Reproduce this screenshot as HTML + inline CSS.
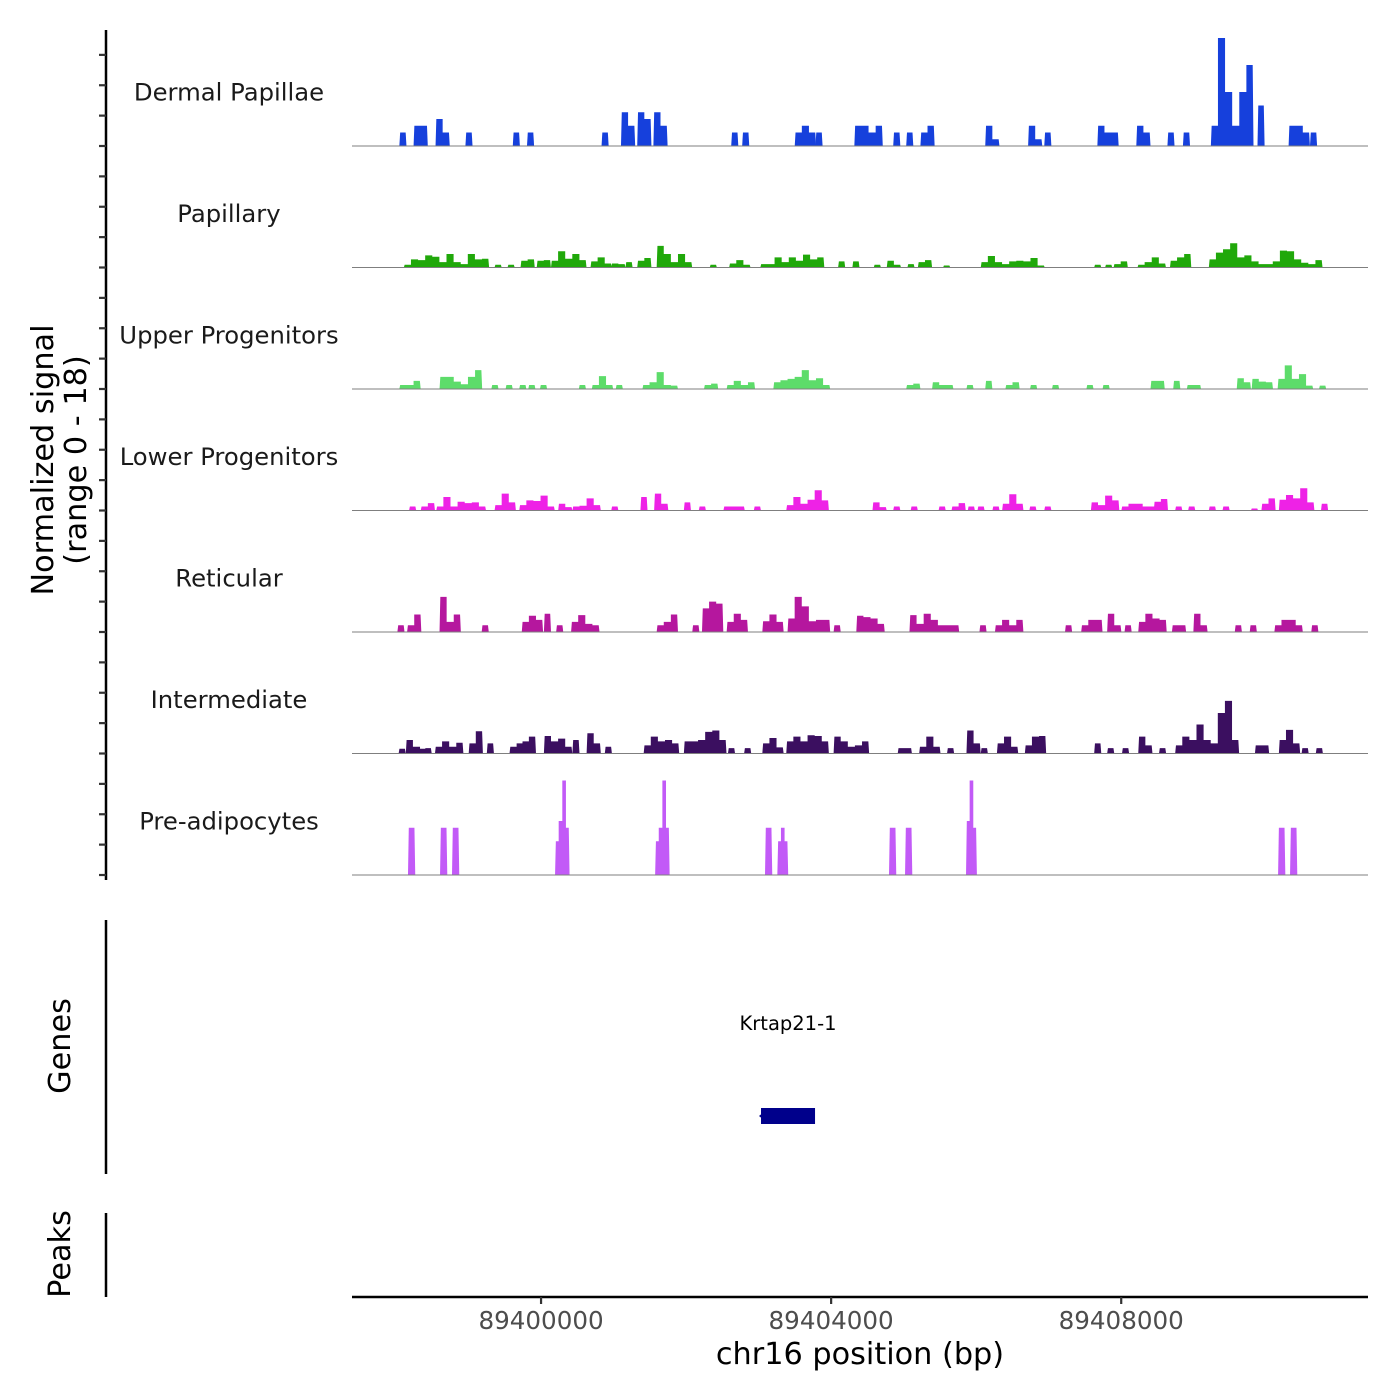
<!DOCTYPE html>
<html><head><meta charset="utf-8"><style>
html,body{margin:0;padding:0;background:#fff;}
svg{display:block;font-family:"DejaVu Sans","Liberation Sans",sans-serif;}
</style></head><body>
<svg id="chart" width="1400" height="1400" viewBox="0 0 1400 1400" xmlns="http://www.w3.org/2000/svg">
<rect x="0" y="0" width="1400" height="1400" fill="#fff"/>
<g id="tracks"></g>
<g id="axes"></g>
</svg>
<script>
// Region and scale data
const regionStart = 89397393;
const regionEnd = 89411403;
const signalMax = 18;
const binSizes = [98, 98, 98, 98, 98, 98, 50];
const xTickValues = [89400000, 89404000, 89408000];
const xTickLabels = ["89400000", "89404000", "89408000"];
const trackNames = ["Dermal Papillae","Papillary","Upper Progenitors","Lower Progenitors","Reticular","Intermediate","Pre-adipocytes"];
const trackColors = ["#1640dc","#20a80a","#5ddc6a","#ee22e6","#b5179e","#3b0f60","#c25af7"];
const geneName = "Krtap21-1";
const geneStart = 89403033;
const geneEnd = 89403778;

// Coverage clusters: [offset bp from regionStart, [signal per bin]]
const dermalPapillae = [[653,[2]],[849,[3,3]],[1152,[4,2]],[1564,[2]],[2217,[2]],[2413,[2]],[3441,[2]],[3709,[5,3]],[3933,[5,4]],[4156,[5,3]],[5229,[2]],[5380,[2]],[6105,[2,3,2]],[6391,[2]],[6927,[3,3,2,3]],[7463,[2]],[7642,[2]],[7838,[2,3]],[8732,[3,1]],[9323,[3,1]],[9546,[2]],[10278,[3,2,2]],[10815,[3,2]],[11244,[2]],[11458,[2]],[11843,[3,16,8,3,8,12]],[12486,[6]],[12915,[3,3,2]],[13210,[2]]];
const papillary = [[715,[0.4,1.2,1.1,1.8,1.6,0.8,2.0,0.8,0.5,2.0,1.2,1.3]],[1966,[0.4]],[2145,[0.4]],[2324,[1.0,1.2]],[2547,[1.0,1.1]],[2744,[1.0,2.4,1.3,2.0,1.1]],[3289,[0.9,1.5,0.6]],[3575,[0.6,0.5]],[3771,[0.8]],[3933,[1.0,1.4]],[4201,[3.2,2.0,0.8,2.0,0.8]],[4933,[0.4]],[5201,[0.6,1.1,0.4]],[5631,[0.5,0.5,1.5,0.8,1.5,1.0,1.9,1.2,1.5]],[6703,[0.9]],[6900,[0.9]],[7195,[0.4]],[7374,[1.0,0.4]],[7659,[0.5]],[7803,[0.8,1.1]],[8151,[0.3]],[8670,[0.8,1.7,0.8,0.5,0.9,1.0,0.9,1.4,0.3]],[10234,[0.4]],[10385,[0.4]],[10502,[0.5,0.9]],[10832,[0.4,0.8,1.5,0.6]],[11279,[1.0,1.5,2.0]],[11815,[1.2,2.2,2.7,3.6,1.5,1.8,0.9,0.5,0.5,0.9,2.5,2.4,1.2,0.7,0.5,1.1]]];
const upperProgenitors = [[653,[0.6,0.6,1.2]],[1207,[1.8,1.8,1.1,0.7,1.8,2.8]],[1922,[0.6]],[2118,[0.6]],[2306,[0.6]],[2431,[0.6]],[2592,[0.6]],[3128,[0.6]],[3307,[0.6,1.9,0.6]],[3637,[0.6]],[4005,[0.6,1.0,2.5,0.6,0.5]],[4854,[0.6,0.8]],[5166,[0.6,1.2,0.6,1.0]],[5810,[1.0,1.3,1.5,1.8,2.8,1.3,1.6,0.6]],[7642,[0.6,0.8]],[7999,[1.0,0.6,0.6]],[8473,[0.6]],[8732,[1.2]],[9010,[0.6,1.0]],[9350,[0.6]],[9653,[0.6]],[10127,[0.6]],[10350,[0.6]],[11011,[1.2,1.2]],[11324,[1.2]],[11512,[0.6,0.6]],[12200,[1.6,1.0]],[12406,[1.5,1.1,1.0]],[12764,[1.5,3.5,1.5,2.2,0.5]],[13335,[0.5]]];
const lowerProgenitors = [[787,[0.6]],[948,[0.6,1.1]],[1162,[0.6,2.0,0.6,1.3,1.1,1.2,0.6]],[1966,[0.8,2.5,1.2]],[2306,[0.8,1.5,1.4,2.2,0.6]],[2843,[1.0,0.5]],[3039,[0.6,0.7,1.8,0.8]],[3575,[0.6]],[3977,[2.0]],[4166,[2.5,1.0]],[4576,[1.2]],[4782,[0.6]],[5122,[0.6,0.6,0.6]],[5541,[0.6]],[5988,[0.8,2.0,1.0,1.6,3.0,1.5]],[7177,[1.2,0.5]],[7463,[0.6]],[7704,[0.6]],[8089,[0.6]],[8267,[0.6,1.1]],[8491,[0.6]],[8625,[0.6]],[8831,[0.6]],[8965,[1.0,2.4,1.0]],[9340,[0.6]],[9546,[0.6]],[10189,[1.2,0.8,2.2,1.5]],[10609,[0.6,1.0,1.0,0.6,0.6]],[11056,[1.3,1.7]],[11351,[0.6]],[11530,[0.6]],[11815,[0.6]],[12004,[0.6]],[12396,[0.3]],[12540,[1.0,1.8]],[12781,[1.6,2.3,1.8,3.3,1.2]],[13362,[1.0]]];
const reticular = [[626,[1.0]],[760,[1.0,2.6]],[1207,[5.2,1.5,2.6]],[1788,[1.0]],[2341,[1.5,2.4,1.8]],[2646,[2.7]],[2815,[1.0]],[3021,[1.5,2.5,1.2,1.0]],[4201,[1.0,1.5,2.6]],[4692,[1.0]],[4826,[3.5,4.5,4.2]],[5166,[1.5,2.7,1.8]],[5658,[1.6,2.6,1.5]],[6006,[2.0,5.2,3.8,1.6,1.8,1.8]],[6641,[1.0]],[6954,[2.4,2.2,2.0,1.2]],[7687,[2.5,1.2,2.7,1.8,1.0,1.0,1.0]],[8652,[1.0]],[8866,[1.0,1.8,1.0,1.8]],[9832,[1.0]],[10055,[1.0,1.8,1.8]],[10413,[2.7,1.0]],[10653,[1.0]],[10842,[1.5,2.7,2.0,1.8]],[11306,[1.0,1.0]],[11602,[2.7,1.0]],[12173,[1.0]],[12379,[1.0]],[12719,[1.0,1.8,1.8,1.0]],[13228,[1.0]]];
const intermediate = [[643,[0.7]],[742,[2.0,1.0,0.7]],[1001,[0.8]],[1144,[1.0,1.8,1.0,1.6]],[1609,[1.5,3.3]],[1859,[1.5]],[2172,[1.0,1.5]],[2341,[1.8,2.5]],[2646,[2.6,1.8,2.2,1.0]],[3039,[2.0]],[3235,[3.0,1.5]],[3486,[1.0]],[4022,[1.2,2.5,1.8,2.0,1.5]],[4576,[1.8,1.8,2.0,3.2,3.4,2.0]],[5184,[0.8]],[5407,[0.8]],[5658,[1.5,2.3,0.9]],[5988,[1.8,2.5,1.8,2.7,2.6,1.8]],[6641,[2.5,1.8,1.0,1.2,1.8]],[7525,[0.8,0.8]],[7821,[1.0,2.5,1.0]],[8205,[0.8]],[8473,[3.4,1.5]],[8670,[0.8]],[8893,[1.5,2.5,1.0]],[9278,[1.2,2.5,2.6]],[10234,[1.5]],[10413,[0.8]],[10618,[0.8]],[10842,[2.5,1.2]],[11128,[0.8]],[11351,[1.2,2.5,2.0,4.3,2.0,1.5,6.0,7.8,2.0]],[12451,[1.2,1.2]],[12781,[2.0,3.5,1.5]],[13094,[0.8]],[13290,[0.8]]];
const preAdipocytes = [[772,[7,7]],[1214,[7,7]],[1379,[7,7]],[2800,[5,8,14,7]],[4180,[5,7,14,7]],[5695,[7,7]],[5865,[5,7,5]],[7405,[7,7]],[7626,[7,7]],[8467,[8,14,7]],[12770,[7,7]],[12935,[7,7]]];
const trackData = [dermalPapillae, papillary, upperProgenitors, lowerProgenitors, reticular, intermediate, preAdipocytes];

const NS = "http://www.w3.org/2000/svg";
const plotLeft = 352, plotRight = 1368;
const firstBase = 146, trackH = 121.5;
function xScale(bp){ return plotLeft + (bp - regionStart) / (regionEnd - regionStart) * (plotRight - plotLeft); }
function yScale(v, base){ return base - v / signalMax * trackH; }
function mk(tag, attrs, parent){ const e = document.createElementNS(NS, tag); for (const k in attrs) e.setAttribute(k, attrs[k]); parent.appendChild(e); return e; }

const tracksG = document.getElementById('tracks');
const axesG = document.getElementById('axes');

trackData.forEach((clusters, ti) => {
  const base = firstBase + ti * trackH;
  const bs = binSizes[ti];
  const g = mk('g', {}, tracksG);
  
  
  clusters.forEach(c => {
    const s = regionStart + c[0], vals = c[1];
    let pts = [[xScale(s), base]];
    vals.forEach((v, i) => {
      pts.push([xScale(s + i * bs) + (i === 0 ? 0.8 : 0), yScale(v, base)]);
      pts.push([xScale(s + (i + 1) * bs) - (i === vals.length - 1 ? 0.8 : 0), yScale(v, base)]);
    });
    pts.push([xScale(s + vals.length * bs), base]);
    const p = mk('polygon', {points: pts.map(q => q[0].toFixed(2) + ',' + q[1].toFixed(2)).join(' '), fill: trackColors[ti]}, g);
    
    
  });
  const bl = mk('line', {x1: plotLeft, x2: plotRight, y1: base, y2: base, stroke: '#7f7f7f', 'stroke-width': 1}, g);
  
  
  const t = mk('text', {x: 229, y: base - 54 + 8.5, 'text-anchor': 'middle', 'font-size': 24.3, fill: '#1a1a1a'}, g);
  t.textContent = trackNames[ti];
  
  
});

// Left axes
function vline(x, y1, y2, name){ const l = mk('line', {x1: x, x2: x, y1: y1, y2: y2, stroke: '#000', 'stroke-width': 2.5}, axesG);   }
vline(106, 30, 880, 'signal-y-axis');
vline(106, 920, 1174, 'genes-y-axis');
vline(106, 1213, 1297, 'peaks-y-axis');
for (let k = 0; k <= 27; k++) {
  const y = 875 - k * trackH / 4;
  const tk = mk('line', {x1: 99, x2: 106, y1: y, y2: y, stroke: '#333', 'stroke-width': 2.2}, axesG);
  
  
}
function rotText(txt, x, y, name){ const t = mk('text', {x: 0, y: 0, transform: 'translate(' + x + ',' + y + ') rotate(-90)', 'text-anchor': 'middle', 'font-size': 30.3, fill: '#000'}, axesG); t.textContent = txt;   }
rotText('Normalized signal', 53, 460, 'y-axis-title');
rotText('(range 0 - 18)', 86, 460, 'y-axis-subtitle');
rotText('Genes', 70, 1046, 'genes-axis-title');
rotText('Peaks', 70, 1254, 'peaks-axis-title');

// Gene
const gy = 1116;
const gr = mk('rect', {x: xScale(geneStart), y: gy - 8, width: xScale(geneEnd) - xScale(geneStart), height: 16, fill: '#00008b'}, axesG);


const ga = mk('polygon', {points: (xScale(geneStart) - 2) + ',' + gy + ' ' + (xScale(geneStart) + 3) + ',' + (gy - 4) + ' ' + (xScale(geneStart) + 3) + ',' + (gy + 4), fill: '#00008b'}, axesG);


const gl = mk('text', {x: (xScale(geneStart) + xScale(geneEnd)) / 2, y: 1030, 'text-anchor': 'middle', 'font-size': 19.5, fill: '#000'}, axesG);
gl.textContent = geneName;



// X axis
const xa = mk('line', {x1: plotLeft, x2: plotRight, y1: 1297, y2: 1297, stroke: '#000', 'stroke-width': 2.5}, axesG);


xTickValues.forEach((v, i) => {
  const x = xScale(v);
  const tk = mk('line', {x1: x, x2: x, y1: 1297, y2: 1304, stroke: '#333', 'stroke-width': 2.2}, axesG);
  
  
  const tl = mk('text', {x: x, y: 1329, 'text-anchor': 'middle', 'font-size': 24.6, fill: '#4d4d4d'}, axesG);
  tl.textContent = xTickLabels[i];
  
  
});
const xt = mk('text', {x: 860, y: 1364, 'text-anchor': 'middle', 'font-size': 30.3, fill: '#000'}, axesG);
xt.textContent = 'chr16 position (bp)';


</script>
</body></html>
